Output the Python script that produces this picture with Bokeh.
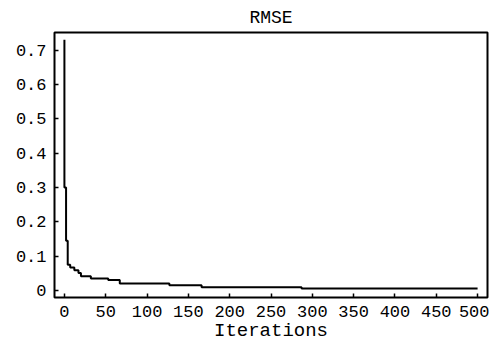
from bokeh.plotting import figure
from bokeh.models import Range1d, FixedTicker
from bokeh.embed import file_html
from bokeh.resources import INLINE

# Data (step-like RMSE decay)
iterations = [0, 0, 2, 4, 7, 12, 17, 20, 32, 53, 67, 127, 166, 287, 500]
rmse = [0.73, 0.30, 0.145, 0.075, 0.067, 0.059, 0.051, 0.042, 0.035, 0.031, 0.021, 0.016, 0.010, 0.006, 0.006]
x_ticks = [0, 50, 100, 150, 200, 250, 300, 350, 400, 450, 500]
y_ticks = [0, 0.1, 0.2, 0.3, 0.4, 0.5, 0.6, 0.7]
y_tick_labels = {0: "0", 0.1: "0.1", 0.2: "0.2", 0.3: "0.3", 0.4: "0.4", 0.5: "0.5", 0.6: "0.6", 0.7: "0.7"}

FONT = "Liberation Mono"

p = figure(width=489, height=344, output_backend="svg", toolbar_location=None,
           title="RMSE", x_range=Range1d(-12, 512), y_range=Range1d(-0.02, 0.751),
           min_border_left=54, min_border_right=2, min_border_top=4, min_border_bottom=5)

p.step(iterations, rmse, mode="after", line_color="black", line_width=2)

p.title.align = "center"
p.title.text_font = FONT
p.title.text_font_size = "18px"
p.title.text_font_style = "normal"
p.title.text_color = "black"

p.xgrid.visible = False
p.ygrid.visible = False
p.outline_line_color = "black"
p.outline_line_width = 2
p.outline_line_alpha = 1

for ax in (p.xaxis[0], p.yaxis[0]):
    ax.axis_line_color = None
    ax.major_tick_in = 4
    ax.major_tick_out = 0
    ax.major_tick_line_color = "black"
    ax.major_tick_line_width = 1.5
    ax.minor_tick_line_color = None
    ax.major_label_text_font = FONT
    ax.major_label_text_font_size = "17px"
    ax.major_label_text_color = "black"

p.xaxis.ticker = FixedTicker(ticks=x_ticks)
p.yaxis.ticker = FixedTicker(ticks=y_ticks)
p.yaxis.major_label_overrides = y_tick_labels
p.xaxis.major_label_standoff = 8
p.yaxis.major_label_standoff = 8

p.xaxis.axis_label = "Iterations"
p.xaxis.axis_label_text_font = FONT
p.xaxis.axis_label_text_font_size = "19px"
p.xaxis.axis_label_text_font_style = "normal"
p.xaxis.axis_label_text_color = "black"
p.xaxis.axis_label_standoff = 0

p.background_fill_color = "white"
p.border_fill_color = "white"

open("out.html", "w").write(file_html(p, INLINE))
